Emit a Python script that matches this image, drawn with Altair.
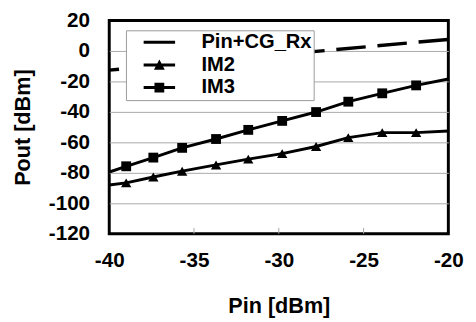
import altair as alt
import pandas as pd

# ---- data ----
pin_pts = [-39.0, -37.4, -35.7, -33.7, -31.8, -29.8, -27.8, -25.9, -23.9, -21.9]
im3_pts = [-75.7, -70.0, -63.6, -57.8, -51.8, -45.9, -40.1, -33.3, -27.8, -22.6]
im2_pts = [-86.6, -82.7, -78.9, -74.8, -71.0, -67.4, -62.7, -56.9, -53.6, -53.6]
# where the curves meet the frame edges
edge_pin = [-40.0, -20.0]
im3_edge = [-79.5, -18.4]
im2_edge = [-88.0, -52.6]
# Pin + CG_Rx reference line
ref_pin = [-40.0, -20.0]
ref_out = [-12.6, 7.6]

series_names = ["Pin+CG_Rx", "IM2", "IM3"]
x_ticks = [-40, -35, -30, -25, -20]
inner_ticks = [-35, -30, -25]
y_ticks = [-120, -100, -80, -60, -40, -20, 0, 20]

FONT = "Liberation Sans"
GRID = "#a8a8a8"
W, H = 345, 217

rows = []
for p, v in zip(pin_pts, im3_pts):
    rows.append({"pin": p, "pout": v, "series": "IM3"})
for p, v in zip(pin_pts, im2_pts):
    rows.append({"pin": p, "pout": v, "series": "IM2"})
markers = pd.DataFrame(rows)

line_rows = list(rows)
for p, a, b in zip(edge_pin, im3_edge, im2_edge):
    line_rows.append({"pin": p, "pout": a, "series": "IM3"})
    line_rows.append({"pin": p, "pout": b, "series": "IM2"})
lines = pd.DataFrame(line_rows).sort_values(["series", "pin"])

ref = pd.DataFrame({"pin": ref_pin, "pout": ref_out})
ticks_df = pd.DataFrame({"pin": inner_ticks})
legend_df = pd.DataFrame({"series": series_names})

xscale = alt.Scale(domain=[-40, -20], nice=False, zero=False)
yscale = alt.Scale(domain=[-120, 20], nice=False, zero=False)

x_axis = alt.Axis(
    values=x_ticks, grid=False, ticks=False, domain=False,
    labelExpr="'' + datum.value", labelFont=FONT, labelFontSize=21,
    labelFontWeight="bold", labelColor="black", labelPadding=16,
    labelFlush=False, labelOverlap=False,
    title="Pin [dBm]", titleFont=FONT, titleFontSize=22,
    titleFontWeight="bold", titleColor="black", titlePadding=26,
)
y_axis = alt.Axis(
    values=y_ticks, grid=True, ticks=False, domain=False,
    gridColor={"condition": {"test": "datum.value == 20 || datum.value == -120",
                              "value": "transparent"}, "value": GRID},
    gridWidth=1, labelOverlap=False, labelFlush=False,
    labelExpr="'' + datum.value", labelFont=FONT, labelFontSize=21,
    labelFontWeight="bold", labelColor="black", labelPadding=20,
    title="Pout [dBm]", titleFont=FONT, titleFontSize=22,
    titleFontWeight="bold", titleColor="black", titlePadding=14,
)


def X():
    return alt.X("pin:Q", scale=xscale, axis=x_axis, title="Pin [dBm]")


def Y():
    return alt.Y("pout:Q", scale=yscale, axis=y_axis, title="Pout [dBm]")


tick_layer = alt.Chart(ticks_df).mark_rule(color=GRID, strokeWidth=1).encode(
    x=X(), y=alt.value(H), y2=alt.value(H - 6)
)

ref_layer = alt.Chart(ref).mark_line(
    color="black", strokeWidth=3.5, strokeDash=[30, 12], strokeDashOffset=20, clip=True
).encode(x=X(), y=Y())

im_lines = alt.Chart(lines).mark_line(color="black", strokeWidth=3, clip=True).encode(
    x=X(), y=Y(), detail="series:N", order="pin:Q",
)

tri = alt.Chart(markers).transform_filter("datum.series == 'IM2'").mark_point(
    shape="triangle-up", filled=True, color="black", size=110, opacity=1
).encode(x=X(), y=Y())

sq = alt.Chart(markers).transform_filter("datum.series == 'IM3'").mark_point(
    shape="square", filled=True, color="black", size=100, opacity=1
).encode(x=X(), y=Y())

# legend glyphs (unit = 8 px): a filled bar for the line plus the marker
BAR = "M-2,-0.19H2V0.19H-2Z"
shape_paths = [
    "M-4,0" + BAR,
    "M-4,0" + BAR + "M-0.69,0.6L0,-0.68L0.69,0.6Z",
    "M-4,0" + BAR + "M-0.62,-0.62H0.62V0.62H-0.62Z",
]

legend_layer = alt.Chart(legend_df).transform_filter("false").mark_point(
    filled=True, color="black", opacity=1
).encode(
    shape=alt.Shape(
        "series:N",
        scale=alt.Scale(domain=series_names, range=shape_paths),
        legend=alt.Legend(
            title=None, orient="none", legendX=17, legendY=10,
            fillColor="white", strokeColor="#9a9a9a", padding=2,
            symbolSize=256, symbolStrokeWidth=0, symbolFillColor="black",
            symbolOpacity=1,
            symbolOffset=21.75, labelOffset=32.5, rowPadding=2,
            labelFont=FONT, labelFontSize=20.5, labelFontWeight="bold",
            labelColor="black", labelLimit=400,
            labelExpr="datum.label + '   '",
        ),
    )
)

chart = alt.layer(
    tick_layer, ref_layer, im_lines, tri, sq, legend_layer
).properties(
    width=W, height=H,
    autosize=alt.AutoSizeParams(type="none"),
    padding={"left": 103, "top": 10, "right": 20, "bottom": 84},
    background="white",
).configure_view(stroke="black", strokeWidth=3)

chart.save("out.html", embed_options={"renderer": "svg", "actions": False})
